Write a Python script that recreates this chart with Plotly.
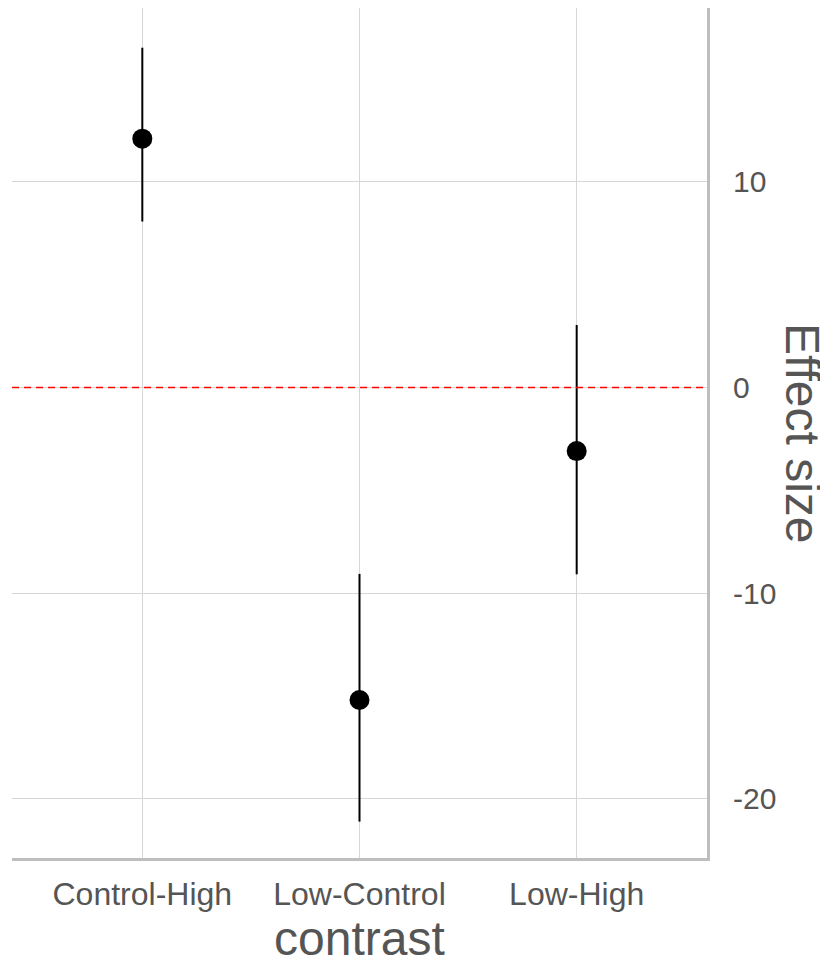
import plotly.graph_objects as go

contrasts = ["Control-High", "Low-Control", "Low-High"]
estimate = [12.10, -15.19, -3.09]
ci_low = [8.07, -21.10, -9.08]
ci_high = [16.52, -9.06, 3.04]
y_ticks = [-20, -10, 0, 10]

err_plus = [h - e for h, e in zip(ci_high, estimate)]
err_minus = [e - l for e, l in zip(estimate, ci_low)]

FONT = "Liberation Sans, Arial, sans-serif"
TXT = "#555555"

fig = go.Figure()
fig.add_hline(y=0, line=dict(color="#ff0000", width=1.5, dash="7px,5px"), layer="above")
fig.add_trace(go.Scatter(
    x=contrasts, y=estimate, mode="markers",
    marker=dict(color="black", size=20),
    error_y=dict(type="data", symmetric=False, array=err_plus, arrayminus=err_minus,
                 color="black", thickness=2, width=0),
    showlegend=False,
))

fig.update_layout(
    width=820, height=960,
    margin=dict(l=4, r=121, t=0, b=110),
    plot_bgcolor="white", paper_bgcolor="white",
    font=dict(family=FONT, color=TXT),
    xaxis=dict(
        type="category", range=[-0.6, 2.6],
        showgrid=True, gridcolor="#d6d6d6", gridwidth=1,
        showline=True, linecolor="#bebebe", linewidth=3,
        ticks="", tickfont=dict(size=32, color=TXT, family=FONT),
        ticklabelstandoff=6, zeroline=False,
    ),
    yaxis=dict(
        side="right", range=[-22.87, 18.45],
        tickvals=y_ticks, ticktext=[str(v) for v in y_ticks],
        showgrid=True, gridcolor="#d6d6d6", gridwidth=1,
        showline=True, linecolor="#bebebe", linewidth=3,
        ticks="", tickfont=dict(size=30, color=TXT, family=FONT),
        ticklabelstandoff=17, zeroline=False,
    ),
    annotations=[
        dict(text="contrast", xref="paper", yref="paper", x=0.5, y=0,
             xanchor="center", yanchor="middle", yshift=-80, showarrow=False,
             font=dict(size=48, color=TXT, family=FONT)),
        dict(text="Effect size", xref="paper", yref="paper", x=1, y=0.5,
             xanchor="center", yanchor="middle", xshift=96, textangle=90,
             showarrow=False, font=dict(size=48, color=TXT, family=FONT)),
    ],
)

fig.write_html("out.html")
